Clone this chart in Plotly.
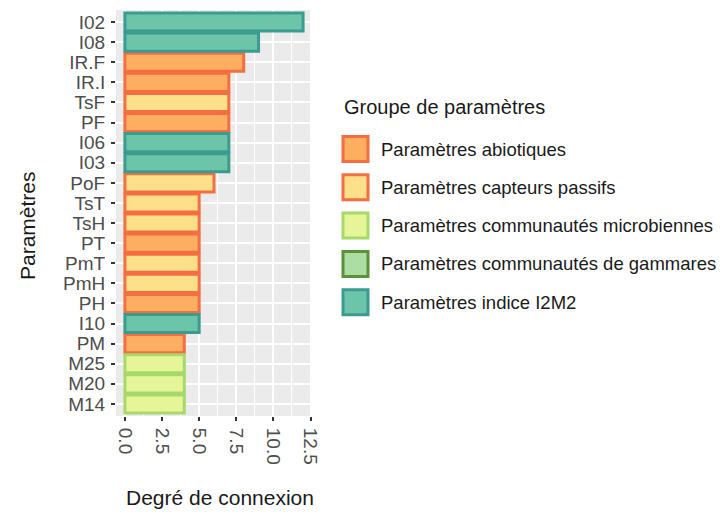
import plotly.graph_objects as go

# Parameters (top to bottom) and their connection degree
params = ["I02", "I08", "IR.F", "IR.I", "TsF", "PF", "I06", "I03", "PoF", "TsT",
          "TsH", "PT", "PmT", "PmH", "PH", "I10", "PM", "M25", "M20", "M14"]
degree = [12, 9, 8, 7, 7, 7, 7, 7, 6, 5, 5, 5, 5, 5, 5, 5, 4, 4, 4, 4]
group = ["I2M2", "I2M2", "abio", "abio", "capt", "abio", "I2M2", "I2M2", "capt", "capt",
         "capt", "abio", "capt", "capt", "abio", "I2M2", "abio", "micro", "micro", "micro"]

group_keys = ["abio", "capt", "micro", "gam", "I2M2"]
group_labels = ["Paramètres abiotiques", "Paramètres capteurs passifs",
                "Paramètres communautés microbiennes", "Paramètres communautés de gammares",
                "Paramètres indice I2M2"]
fill_colors = ["#FDAE61", "#FEE08B", "#E6F598", "#ABDDA4", "#6CC5A8"]
line_colors = ["#F46D43", "#F46D43", "#A6D96A", "#5A9238", "#3A9B8E"]

x_ticks = [0, 2.5, 5, 7.5, 10, 12.5]
x_tick_text = ["0.0", "2.5", "5.0", "7.5", "10.0", "12.5"]

FONT = "Liberation Sans, Arial, sans-serif"

fig = go.Figure()
for key, fc, lc in zip(group_keys, fill_colors, line_colors):
    ys = [p for p, g in zip(params, group) if g == key]
    xs = [d for d, g in zip(degree, group) if g == key]
    if not ys:
        continue
    fig.add_trace(go.Bar(
        x=xs, y=ys, orientation="h", width=0.9,
        marker=dict(color=fc, line=dict(color=lc, width=3)),
        showlegend=False, hoverinfo="x+y",
    ))

# plot area in pixels
W, H = 721, 512
L, R, T, B = 116, 312, 10, 416


def px(x):
    return (x - L) / (R - L)


def py(y):
    return (B - y) / (B - T)


shapes = []
annotations = []

# legend drawn by hand with large keys
annotations.append(dict(x=px(342), y=py(107), xref="paper", yref="paper",
                        text="Groupe de paramètres", showarrow=False,
                        xanchor="left", yanchor="middle",
                        font=dict(family=FONT, size=20, color="#1a1a1a")))
for i, (lab, fc, lc) in enumerate(zip(group_labels, fill_colors, line_colors)):
    cy = 149 + i * 38.3
    shapes.append(dict(type="rect", xref="paper", yref="paper",
                       x0=px(343), x1=px(368), y0=py(cy - 12.5), y1=py(cy + 12.5),
                       fillcolor=fc, line=dict(color=lc, width=3)))
    annotations.append(dict(x=px(379), y=py(cy), xref="paper", yref="paper",
                            text=lab, showarrow=False, xanchor="left", yanchor="middle",
                            font=dict(family=FONT, size=18.5, color="#1a1a1a")))

# axis titles
annotations.append(dict(x=px(220), y=py(497), xref="paper", yref="paper",
                        text="Degré de connexion", showarrow=False,
                        xanchor="center", yanchor="middle",
                        font=dict(family=FONT, size=21, color="#1a1a1a")))
annotations.append(dict(x=px(27), y=py(226), xref="paper", yref="paper",
                        text="Paramètres", showarrow=False, textangle=-90,
                        xanchor="center", yanchor="middle",
                        font=dict(family=FONT, size=21, color="#1a1a1a")))

fig.update_layout(
    width=W, height=H,
    margin=dict(l=L, r=W - R, t=T, b=H - B),
    plot_bgcolor="#EBEBEB", paper_bgcolor="white",
    bargap=0.1,
    shapes=shapes, annotations=annotations,
    font=dict(family=FONT),
)
fig.update_xaxes(
    range=[-0.6, 12.6], tickmode="array", tickvals=x_ticks, ticktext=x_tick_text,
    tickangle=90, ticklabelstandoff=3,
    showgrid=True, gridcolor="white", gridwidth=2.4, zeroline=False,
    minor=dict(tick0=1.25, dtick=2.5, showgrid=True, gridcolor="white", gridwidth=1.3),
    ticks="outside", ticklen=4, tickwidth=2, tickcolor="#333333",
    tickfont=dict(family=FONT, size=19, color="#4D4D4D"),
    showline=False,
)
fig.update_yaxes(
    categoryorder="array", categoryarray=list(reversed(params)),
    tickmode="array", tickvals=params, ticktext=params,
    range=[-0.6, len(params) - 0.4], ticklabelstandoff=2,
    showgrid=True, gridcolor="white", gridwidth=2.4, zeroline=False,
    ticks="outside", ticklen=4, tickwidth=2, tickcolor="#333333",
    tickfont=dict(family=FONT, size=19, color="#4D4D4D"),
    showline=False,
)

fig.write_html("out.html")
